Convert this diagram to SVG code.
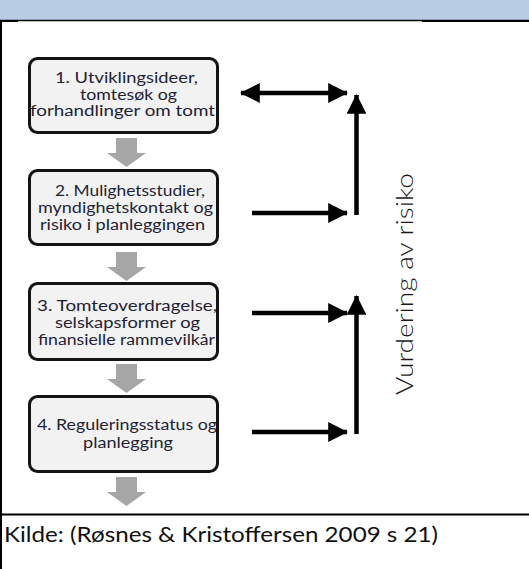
<svg xmlns="http://www.w3.org/2000/svg" width="529" height="569" viewBox="0 0 529 569">
  <style>
    .frame { stroke: #000; fill: none; }
    .box { fill: #f2f2f2; stroke: #141414; stroke-width: 3; }
    .label { font-family: Lato, "Liberation Sans", sans-serif; font-size: 14.5px; fill: #1f2235; }
    .flow { fill: #a6a6a6; }
    .link { stroke: #000; stroke-width: 4.5; fill: none; }
    .side { font-family: Lato, "Liberation Sans", sans-serif; font-weight: 300; font-size: 24px; fill: #1a1a1a; }
    .source { font-family: Lato, "Liberation Sans", sans-serif; font-size: 22px; fill: #111; }
  </style>
  <defs>
    <marker id="head" viewBox="0 0 20 20" refX="19" refY="10" markerWidth="4.4" markerHeight="4.4" markerUnits="strokeWidth" orient="auto-start-reverse">
      <path d="M0,0 L20,10 L0,20 Z" fill="#000"/>
    </marker>
    <path id="down" d="M-10.5,0 H10.5 V15 H19.5 L0,29 L-19.5,15 H-10.5 Z"/>
  </defs>

  <!-- table frame -->
  <rect x="0" y="0" width="529" height="20" fill="#b8cce4"/>
  <line class="frame" x1="0" y1="20.5" x2="529" y2="20.5" stroke-width="1.4"/>
  <line class="frame" x1="0" y1="21" x2="18" y2="21" stroke-width="2"/>
  <line class="frame" x1="422" y1="21" x2="529" y2="21" stroke-width="2"/>
  <line class="frame" x1="1" y1="20" x2="1" y2="569" stroke-width="2"/>
  <line class="frame" x1="0" y1="514.5" x2="529" y2="514.5" stroke-width="2"/>

  <!-- process steps -->
  <g id="step1">
    <rect class="box" x="29.5" y="58.5" width="188" height="74" rx="8"/>
    <text class="label" x="55" y="83" textLength="143" lengthAdjust="spacingAndGlyphs">1. Utviklingsideer,</text>
    <text class="label" x="80" y="99.5" textLength="97" lengthAdjust="spacingAndGlyphs">tomtesøk og</text>
    <text class="label" x="30" y="116" textLength="185" lengthAdjust="spacingAndGlyphs">forhandlinger om tomt</text>
  </g>
  <g id="step2">
    <rect class="box" x="29.5" y="170.5" width="188" height="74" rx="8"/>
    <text class="label" x="55" y="196" textLength="150" lengthAdjust="spacingAndGlyphs">2. Mulighetsstudier,</text>
    <text class="label" x="38" y="213" textLength="175" lengthAdjust="spacingAndGlyphs">myndighetskontakt og</text>
    <text class="label" x="40" y="230" textLength="165" lengthAdjust="spacingAndGlyphs">risiko i planleggingen</text>
  </g>
  <g id="step3">
    <rect class="box" x="29.5" y="283.5" width="188" height="76" rx="8"/>
    <text class="label" x="37" y="311" textLength="180" lengthAdjust="spacingAndGlyphs">3. Tomteoverdragelse,</text>
    <text class="label" x="55" y="328" textLength="145" lengthAdjust="spacingAndGlyphs">selskapsformer og</text>
    <text class="label" x="38" y="345" textLength="177" lengthAdjust="spacingAndGlyphs">finansielle rammevilkår</text>
  </g>
  <g id="step4">
    <rect class="box" x="29.5" y="396.5" width="188" height="75" rx="8"/>
    <text class="label" x="37" y="430" textLength="180" lengthAdjust="spacingAndGlyphs">4. Reguleringsstatus og</text>
    <text class="label" x="83" y="448" textLength="90" lengthAdjust="spacingAndGlyphs">planlegging</text>
  </g>

  <!-- risk label -->
  <g id="risk">
    <text class="side" transform="translate(413,395) rotate(-90)" x="0" y="0" textLength="222" lengthAdjust="spacingAndGlyphs">Vurdering av risiko</text>
  </g>

  <!-- connectors -->
  <g id="connectors">
    <use href="#down" class="flow" x="126.5" y="138"/>
    <use href="#down" class="flow" x="126.5" y="252"/>
    <use href="#down" class="flow" x="126.5" y="364"/>
    <use href="#down" class="flow" x="126.5" y="477"/>

    <line class="link" x1="241" y1="93" x2="347" y2="93" marker-start="url(#head)" marker-end="url(#head)"/>
    <line class="link" x1="252" y1="213" x2="347" y2="213" marker-end="url(#head)"/>
    <line class="link" x1="356.5" y1="215" x2="356.5" y2="95" marker-end="url(#head)"/>

    <line class="link" x1="252" y1="313" x2="347" y2="313" marker-end="url(#head)"/>
    <line class="link" x1="252" y1="432" x2="347" y2="432" marker-end="url(#head)"/>
    <line class="link" x1="356.5" y1="434" x2="356.5" y2="296" marker-end="url(#head)"/>
  </g>

  <!-- source note -->
  <text class="source" x="4" y="542" textLength="434" lengthAdjust="spacingAndGlyphs">Kilde: (Røsnes &amp; Kristoffersen 2009 s 21)</text>
</svg>
